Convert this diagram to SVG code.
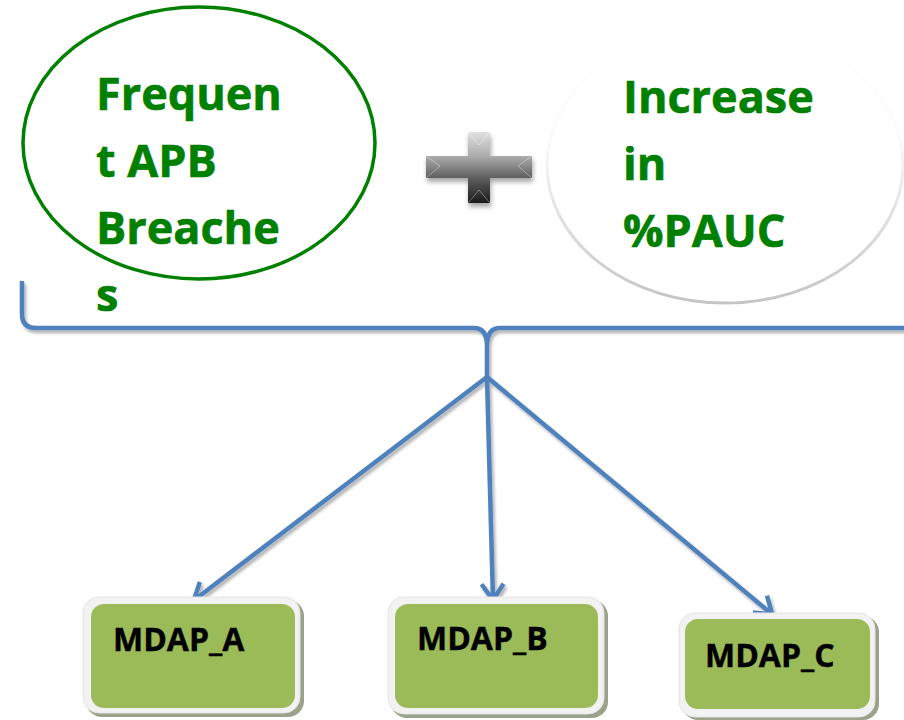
<svg xmlns="http://www.w3.org/2000/svg" width="904" height="720" viewBox="0 0 904 720">
<defs>
<style>
.big{font-family:"Open Sans","Liberation Sans",sans-serif;font-weight:bold;font-size:45px;fill:#008000;stroke:#008000;stroke-width:0.6}
.lbl{font-family:"Open Sans","Liberation Sans",sans-serif;font-weight:bold;font-size:32px;fill:#000;stroke:#000;stroke-width:0.4}
.conn{fill:none;stroke:#4f81bd;stroke-width:4.5}
.outer{fill:#f2f2f2;stroke:#e4e4e4;stroke-width:1}
.inner{fill:#9bbb59}
.shadowbox{fill:#9aa38a}
</style>
<filter id="sh" x="-10%" y="-10%" width="130%" height="140%">
<feDropShadow dx="2" dy="3" stdDeviation="1.5" flood-color="#000" flood-opacity="0.3"/>
</filter>
<filter id="sh2" x="-20%" y="-20%" width="150%" height="160%">
<feDropShadow dx="1" dy="4" stdDeviation="2.5" flood-color="#000" flood-opacity="0.35"/>
</filter>
<marker id="arr" markerUnits="userSpaceOnUse" markerWidth="30" markerHeight="30" viewBox="0 0 30 30" refX="24" refY="15" orient="auto">
<path d="M7,4 L23,15 L7,26" fill="none" stroke="#4f81bd" stroke-width="4.5" stroke-linejoin="miter"/>
</marker>
<linearGradient id="plusg" gradientUnits="userSpaceOnUse" x1="0" y1="132" x2="0" y2="203">
<stop offset="0" stop-color="#e0e0e0"/>
<stop offset="0.35" stop-color="#aaaaaa"/>
<stop offset="0.65" stop-color="#5e5e5e"/>
<stop offset="1" stop-color="#1a1a1a"/>
</linearGradient>
<linearGradient id="ellg" x1="0" y1="0" x2="0" y2="1">
<stop offset="0" stop-color="#ffffff"/>
<stop offset="0.4" stop-color="#fbfbfb"/>
<stop offset="1" stop-color="#c4c4c4"/>
</linearGradient>
</defs>
<rect width="904" height="720" fill="#fff"/>

<g id="node-apb">
<ellipse cx="199" cy="143" rx="176" ry="136" fill="none" stroke="#008000" stroke-width="3.5"/>
<text class="big" x="96" y="110">Frequen</text>
<text class="big" x="96" y="177">t APB</text>
<text class="big" x="96" y="244">Breache</text>
<text class="big" x="96" y="311">s</text>
</g>

<g id="plus" filter="url(#sh2)">
<path d="M468,132 L490,132 L490,156 L532,156 L532,178 L490,178 L490,203 L468,203 L468,178 L426,178 L426,156 L468,156 Z" fill="url(#plusg)"/>
<path d="M468,132 L479,145 L490,132 M426,156 L440,166 L426,178 M532,156 L518,166 L532,178 M468,203 L479,190 L490,203" fill="none" stroke="#ffffff" stroke-opacity="0.35" stroke-width="1"/>
</g>

<g id="node-pauc">
<ellipse cx="725" cy="165" rx="178" ry="138" fill="#fff" stroke="url(#ellg)" stroke-width="3"/>
<text class="big" x="623" y="113">Increase</text>
<text class="big" x="623" y="180">in</text>
<text class="big" x="623" y="247">%PAUC</text>
</g>

<g id="connectors" filter="url(#sh)">
<path class="conn" d="M22,281 L22,314 Q22,328 36,328 L474,328 Q487,328 487,346 L487,377 L487,346 Q487,328 500,328 L910,328"/>
<path class="conn" d="M487,377 L193,601" marker-end="url(#arr)"/>
<path class="conn" d="M487,377 L493,601" marker-end="url(#arr)"/>
<path class="conn" d="M487,377 L773,615" marker-end="url(#arr)"/>
</g>

<g id="node-mdap-a">
<rect class="shadowbox" x="86" y="600" width="218" height="117" rx="16"/>
<rect class="outer" x="83" y="597" width="217" height="116" rx="16"/>
<rect class="inner" x="91" y="604" width="204" height="104" rx="13"/>
<text class="lbl" x="113" y="651">MDAP_A</text>
</g>

<g id="node-mdap-b">
<rect class="shadowbox" x="391" y="600" width="217" height="118" rx="16"/>
<rect class="outer" x="388" y="597" width="216" height="117" rx="16"/>
<rect class="inner" x="395" y="604" width="203" height="104" rx="13"/>
<text class="lbl" x="417" y="650">MDAP_B</text>
</g>

<g id="node-mdap-c">
<rect class="shadowbox" x="682" y="616" width="197" height="104" rx="16"/>
<rect class="outer" x="679" y="613" width="196" height="104" rx="16"/>
<rect class="inner" x="685" y="619" width="185" height="90" rx="13"/>
<text class="lbl" x="705" y="667">MDAP_C</text>
</g>
</svg>
